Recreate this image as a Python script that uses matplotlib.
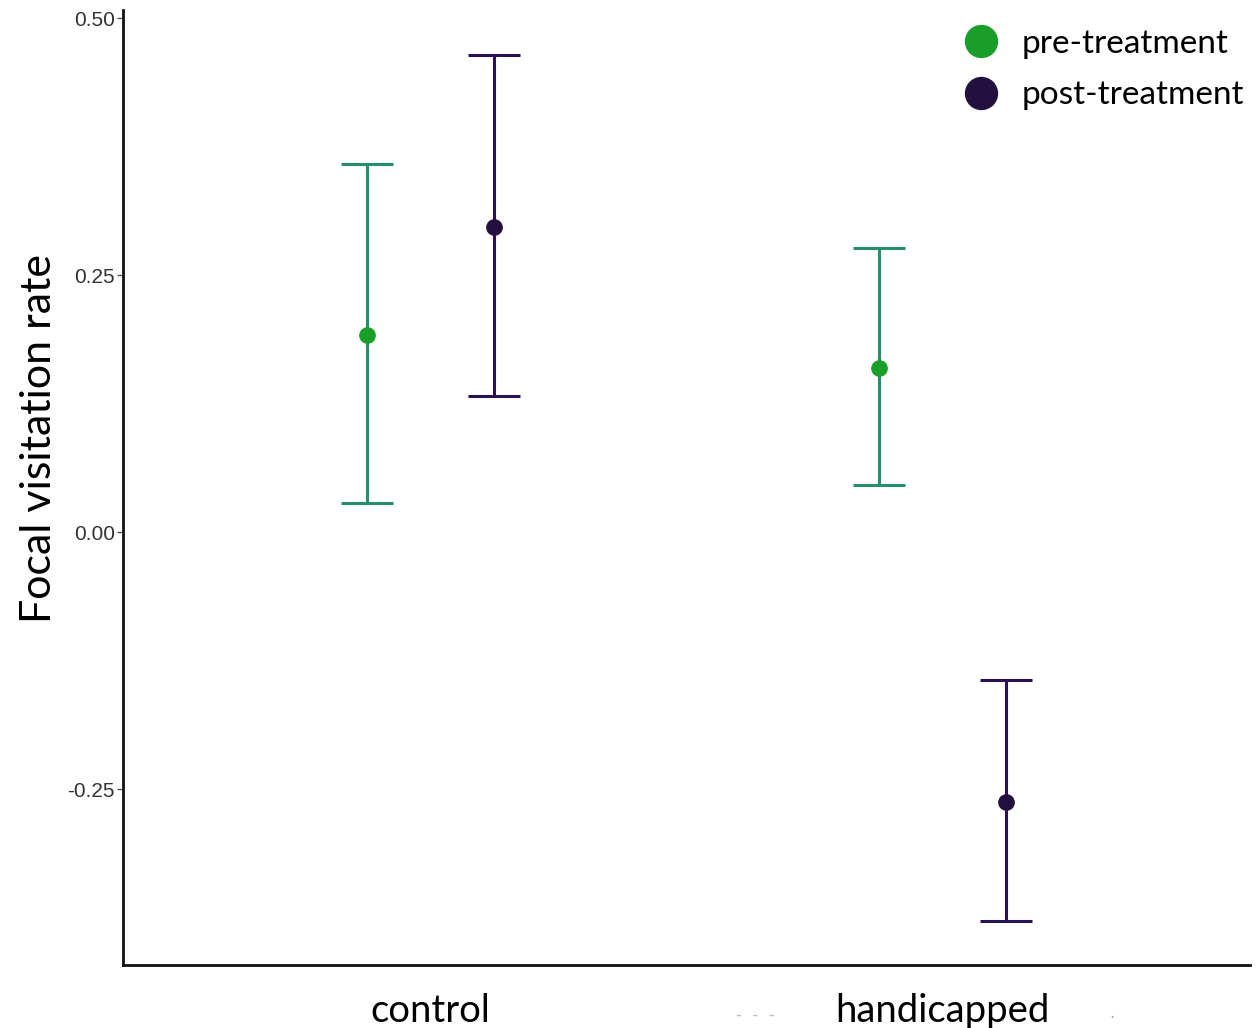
import matplotlib.pyplot as plt
import numpy as np

# data
groups = ["control", "handicapped"]
pre_mean = [0.192, 0.160]
pre_low = [0.028, 0.046]
pre_high = [0.358, 0.276]
post_mean = [0.297, -0.262]
post_low = [0.132, -0.378]
post_high = [0.464, -0.144]
yticks = [-0.25, 0.00, 0.25, 0.50]

GREEN = "#1a9e2a"
GREEN_BAR = "#24906e"
NAVY = "#23103f"
NAVY_BAR = "#2b1256"

fig = plt.figure(figsize=(12.59, 10.28), dpi=100)
ax = fig.add_axes([0.0977, 0.0613, 0.8952, 0.929])

x = np.arange(len(groups))
off = 0.124

for xs, mean, lo, hi, pc, lc in [
    (x - off, pre_mean, pre_low, pre_high, GREEN, GREEN_BAR),
    (x + off, post_mean, post_low, post_high, NAVY, NAVY_BAR),
]:
    mean = np.array(mean)
    err = [mean - np.array(lo), np.array(hi) - mean]
    ax.errorbar(xs, mean, yerr=err, fmt="none", ecolor=lc, elinewidth=2.2,
                capsize=18.5, capthick=2.2, zorder=2)
    ax.plot(xs, mean, "o", color=pc, markersize=11, zorder=3)

# legend drawn with big dots
h1, = ax.plot([], [], "o", color=GREEN, markersize=23)
h2, = ax.plot([], [], "o", color=NAVY, markersize=23)
ax.legend([h1, h2], ["pre-treatment", "post-treatment"], loc="upper right",
          bbox_to_anchor=(1.021, 1.012), frameon=False, handletextpad=0.2,
          labelspacing=0.65, prop={"family": "Lato", "size": 24})

ax.set_xlim(-0.6, 1.6)
ax.set_ylim(-0.421, 0.508)
ax.set_xticks(x)
ax.set_xticklabels(groups, family="Lato", fontsize=27.5)
ax.set_yticks(yticks)
ax.set_yticklabels([f"{v:.2f}" for v in yticks], family="Liberation Sans",
                   fontsize=15, color="#333333")
ax.tick_params(axis="y", length=4, width=1, color="#555555", pad=2)
ax.tick_params(axis="x", length=0, pad=20)
ax.set_ylabel("Focal visitation rate", family="Lato", fontsize=31)
ax.yaxis.set_label_coords(-0.058, 0.551)

for s in ["top", "right"]:
    ax.spines[s].set_visible(False)
for s in ["left", "bottom"]:
    ax.spines[s].set_linewidth(2)
    ax.spines[s].set_color("#111111")

# faint marks left under the x labels in the original
fig.text(0.6, 0.008, "-  -  -", color="#bbbbbb", fontsize=12, ha="center")
fig.text(0.883, 0.01, ".", color="#aaaaaa", fontsize=12, ha="center")

fig.savefig("out.png", dpi=100)
